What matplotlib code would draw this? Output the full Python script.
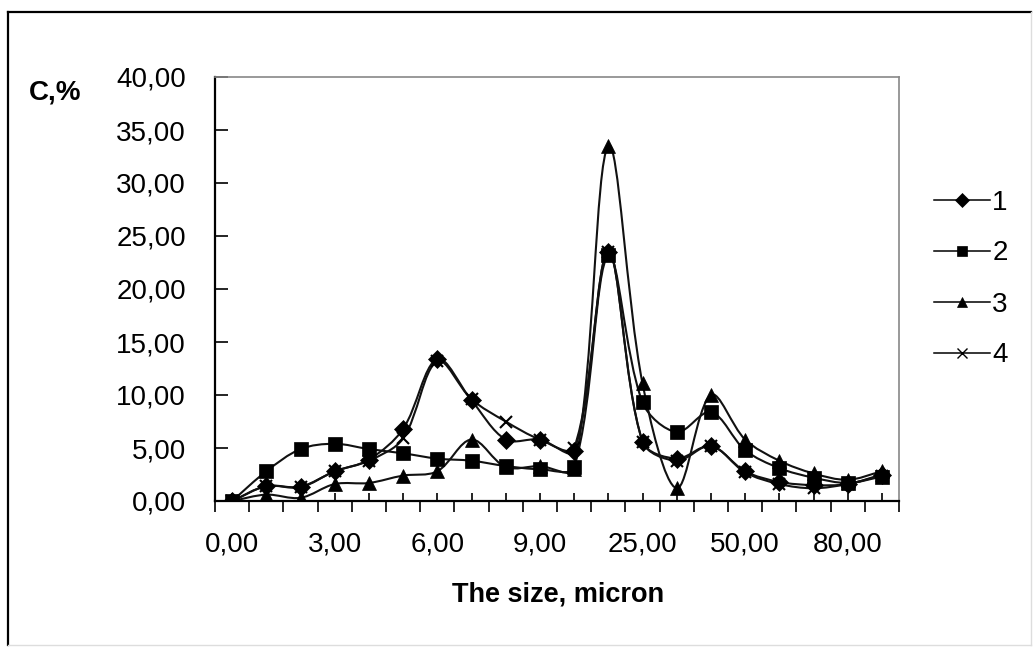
import numpy as np
import matplotlib
matplotlib.use("Agg")
import matplotlib.pyplot as plt
from matplotlib.path import Path
from matplotlib.patches import PathPatch
from matplotlib.lines import Line2D

plt.rcParams['font.family'] = ['Liberation Sans', 'DejaVu Sans']

# particle size categories (micron)
sizes = [0, 1, 2, 3, 4, 5, 6, 7, 8, 9, 10, 20, 25, 30, 40, 50, 60, 70, 80, 90]
labels = ["1", "2", "3", "4"]

# content C, % for each sample
c1 = [0, 1.4, 1.35, 2.8, 3.9, 6.8, 13.4, 9.5, 5.8, 5.8, 4.7, 23.5, 5.6, 4.0, 5.2, 2.8, 1.8, 1.5, 1.6, 2.5]
c2 = [0, 2.8, 4.9, 5.4, 4.9, 4.5, 4.0, 3.8, 3.3, 3.0, 3.2, 23.2, 9.3, 6.5, 8.4, 4.8, 3.1, 2.2, 1.7, 2.3]
c3 = [0, 0.6, 0.3, 1.6, 1.7, 2.4, 2.8, 5.8, 3.2, 3.3, 3.0, 33.5, 11.1, 1.2, 10.0, 5.8, 3.8, 2.6, 2.0, 2.8]
c4 = [0, 1.4, 1.3, 2.8, 3.8, 5.9, 13.2, 9.6, 7.5, 5.8, 5.0, 23.5, 5.6, 3.8, 5.2, 2.7, 1.6, 1.2, 1.6, 2.4]

markers = ['D', 's', '^', 'x']
msizes = [9, 10.5, 10.5, 9]

W, H = 1034, 648
L, R, T, B = 215, 899, 77, 501


def smooth_path(x, y, yscale):
    # excel-like bezier smoothing, control points weighted by segment length
    x = np.asarray(x, float)
    y = np.asarray(y, float)
    n = len(x)
    pts = np.column_stack([x, y])
    sc = np.array([1.0, yscale])
    d = np.hypot(*((pts[1:] - pts[:-1]) * sc).T)
    tan = np.zeros_like(pts)
    tan[1:-1] = pts[2:] - pts[:-2]
    tan[0] = pts[1] - pts[0]
    tan[-1] = pts[-1] - pts[-2]
    verts = [pts[0]]
    codes = [Path.MOVETO]
    for i in range(n - 1):
        if i == 0:
            a = pts[i] + tan[i] / 3
        else:
            a = pts[i] + tan[i] * d[i] / (d[i - 1] + d[i]) / 3
        if i + 1 == n - 1:
            b = pts[i + 1] - tan[i + 1] / 3
        else:
            b = pts[i + 1] - tan[i + 1] * d[i] / (d[i] + d[i + 1]) / 3
        verts += [a, b, pts[i + 1]]
        codes += [Path.CURVE4] * 3
    return Path(verts, codes)


fig = plt.figure(figsize=(W / 100, H / 100), dpi=100)
ax = fig.add_axes([L / W, 1 - B / H, (R - L) / W, (B - T) / H])

xpos = np.arange(len(sizes))
ymax = 40
yscale = ((B - T) / ymax) / ((R - L) / len(sizes))

handles = []
for c, m, ms, lab in zip([c1, c2, c3, c4], markers, msizes, labels):
    p = smooth_path(xpos, c, yscale)
    ax.add_patch(PathPatch(p, fill=False, edgecolor='#111111', lw=1.5, zorder=2))
    ax.plot(xpos, c, ls='none', marker=m, ms=ms, color='black',
            mec='black', mew=1.5 if m == 'x' else 0.5, zorder=3)
    handles.append(Line2D([], [], color='black', lw=1.1, marker=m,
                          ms=ms * 0.75, mew=1.0 if m == 'x' else 0.5))

ax.set_xlim(-0.5, len(sizes) - 0.5)
ax.set_ylim(0, ymax)

# y axis
yt = np.arange(0, 41, 5)
ax.set_yticks(yt)
ax.set_yticklabels([("%.2f" % v).replace('.', ',') for v in yt])
ax.tick_params(axis='y', direction='in', length=9, width=1.2, pad=21, labelsize=20)

# x axis: boundary ticks outward, labels at category centres
ax.set_xticks(np.arange(-0.5, len(sizes), 1))
ax.set_xticklabels([])
ax.tick_params(axis='x', which='major', direction='out', length=8, width=1.2)
ax.set_xticks(xpos, minor=True)
ax.set_xticklabels([("%.2f" % s).replace('.', ',') if i % 3 == 0 else ''
                    for i, s in enumerate(sizes)], minor=True)
ax.tick_params(axis='x', which='minor', direction='in', length=6, width=1.2,
               pad=22, labelsize=20)

for s in ['left', 'bottom']:
    ax.spines[s].set_linewidth(1.6)
for s in ['top', 'right']:
    ax.spines[s].set_color('#888888')
    ax.spines[s].set_linewidth(1.2)

fig.text(55 / W, 1 - 92 / H, "C,%", fontsize=20, fontweight='bold', ha='center', va='center')
fig.text(558 / W, 1 - 595 / H, "The size, micron", fontsize=19.5, fontweight='bold',
         ha='center', va='center')

fig.legend(handles, labels, loc='center left', bbox_to_anchor=(934 / W, 1 - 279 / H),
           frameon=False, fontsize=20, handlelength=2.0, handletextpad=0.1,
           labelspacing=0.9, borderpad=0, borderaxespad=0)

# outer chart frame
fig.add_artist(Line2D([8 / W, 8 / W], [1 - 645 / H, 1 - 12 / H], color='black', lw=1.6))
fig.add_artist(Line2D([8 / W, 1031 / W], [1 - 12 / H, 1 - 12 / H], color='black', lw=1.6))
fig.add_artist(Line2D([8 / W, 1031 / W], [1 - 645 / H, 1 - 645 / H], color='#dddddd', lw=1))
fig.add_artist(Line2D([1031 / W, 1031 / W], [1 - 645 / H, 1 - 12 / H], color='#dddddd', lw=1))

fig.savefig("out.png", dpi=100)
